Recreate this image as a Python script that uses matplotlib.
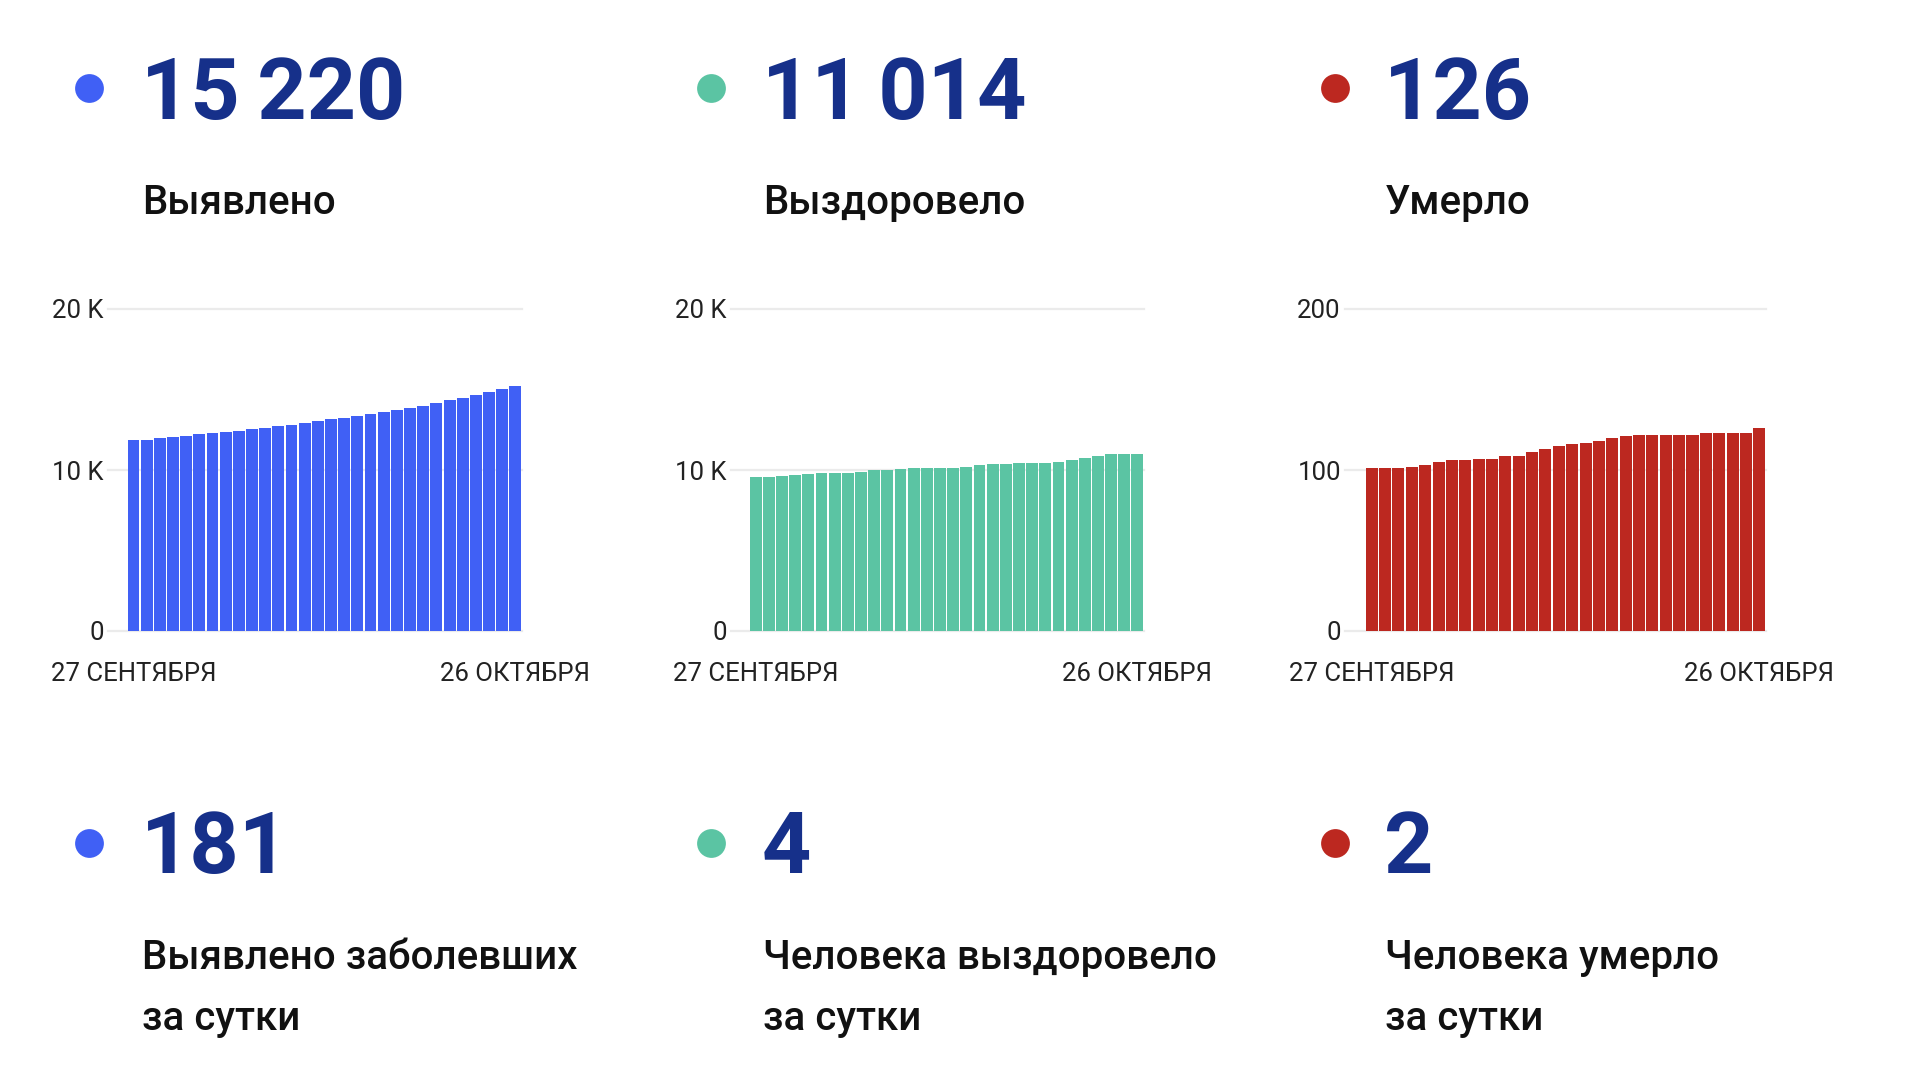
import matplotlib
matplotlib.use("Agg")
import matplotlib.pyplot as plt
import numpy as np

plt.rcParams["font.family"] = ["Roboto", "DejaVu Sans"]

# ------------------------------ Данные ------------------------------
date_labels = ["27 СЕНТЯБРЯ", "26 ОКТЯБРЯ"]

detected = [11850, 11890, 11975, 12060, 12140, 12225, 12290, 12370, 12450, 12535,
            12620, 12720, 12810, 12910, 13015, 13140, 13245, 13370, 13470, 13600,
            13720, 13845, 13990, 14160, 14325, 14490, 14655, 14825, 15030, 15220]
recovered = [9545, 9565, 9605, 9665, 9750, 9815, 9835, 9835, 9895, 9980,
             10020, 10060, 10125, 10125, 10125, 10145, 10210, 10290, 10355, 10395,
             10415, 10415, 10455, 10500, 10605, 10750, 10875, 10995, 11000, 11014]
died = [101, 101, 101, 102, 103, 105, 106, 106, 107, 107,
        109, 109, 111, 113, 115, 116, 117, 118, 120, 121,
        122, 122, 122, 122, 122, 123, 123, 123, 123, 126]

totals = ["15\u2009220", "11\u2009014", "126"]
totals_titles = ["Выявлено", "Выздоровело", "Умерло"]
daily = ["181", "4", "2"]
daily_titles = [["Выявлено заболевших", "за сутки"],
                ["Человека выздоровело", "за сутки"],
                ["Человека умерло", "за сутки"]]

y_ticks = [[0, 10000, 20000], [0, 10000, 20000], [0, 100, 200]]
y_ticklabels = [["0", "10 K", "20 K"], ["0", "10 K", "20 K"], ["0", "100", "200"]]

colors = ["#4060F5", "#5BC4A3", "#BC2820"]
NAVY = "#16308A"
TEXT = "#111111"

W, H = 1920, 1080
fig = plt.figure(figsize=(19.2, 10.8), dpi=100)
fig.patch.set_facecolor("white")

# оверлей в пиксельных координатах для текста и точек
ov = fig.add_axes([0, 0, 1, 1])
ov.set_xlim(0, W)
ov.set_ylim(H, 0)
ov.axis("off")

dot_x = [89, 711, 1335]
text_x = [142, 763, 1385]
num_x = [141, 762, 1384]

for i in range(3):
    # верхний ряд
    ov.scatter([dot_x[i]], [88], s=430, color=colors[i], zorder=3, linewidths=0)
    ov.text(num_x[i], 119, totals[i], fontsize=62, fontweight="bold",
            color=NAVY, va="baseline", ha="left")
    ov.text(text_x[i], 214, totals_titles[i], fontsize=29, fontweight="medium",
            color=TEXT, va="baseline", ha="left")
    # нижний ряд
    ov.scatter([dot_x[i]], [843], s=430, color=colors[i], zorder=3, linewidths=0)
    ov.text(num_x[i], 873, daily[i], fontsize=62, fontweight="bold",
            color=NAVY, va="baseline", ha="left")
    ov.text(text_x[i], 969, daily_titles[i][0], fontsize=29, fontweight="medium",
            color=TEXT, va="baseline", ha="left")
    ov.text(text_x[i], 1030, daily_titles[i][1], fontsize=29, fontweight="medium",
            color=TEXT, va="baseline", ha="left")

# ------------------------------ Графики ------------------------------
series = [detected, recovered, died]
axes_px = [(108, 522), (731, 1144), (1345, 1766)]
x_left = [-1.94, -1.87, -2.0]
y_top, y_bot = 309, 631

for i in range(3):
    x0, x1 = axes_px[i]
    ax = fig.add_axes([x0 / W, 1 - y_bot / H, (x1 - x0) / W, (y_bot - y_top) / H])
    vals = series[i]
    xs = np.arange(len(vals))
    ax.bar(xs, vals, width=0.9, color=colors[i], zorder=2, linewidth=0)
    ax.set_xlim(x_left[i], len(vals) - 0.5)
    ax.set_ylim(0, y_ticks[i][-1])
    ax.set_yticks(y_ticks[i])
    ax.set_yticklabels(y_ticklabels[i])
    ax.set_xticks([0, len(vals) - 1])
    ax.set_xticklabels(date_labels)
    for y in y_ticks[i]:
        ax.axhline(y, color="#ebebeb", linewidth=1.6, zorder=1, clip_on=False)
    for s in ax.spines.values():
        s.set_visible(False)
    ax.set_facecolor("none")
    ax.tick_params(axis="y", length=0, pad=3, labelsize=18.5, labelcolor="#222222")
    ax.tick_params(axis="x", length=0, pad=22, labelsize=18.5, labelcolor="#222222")

fig.savefig("out.png", dpi=100, facecolor="white")
